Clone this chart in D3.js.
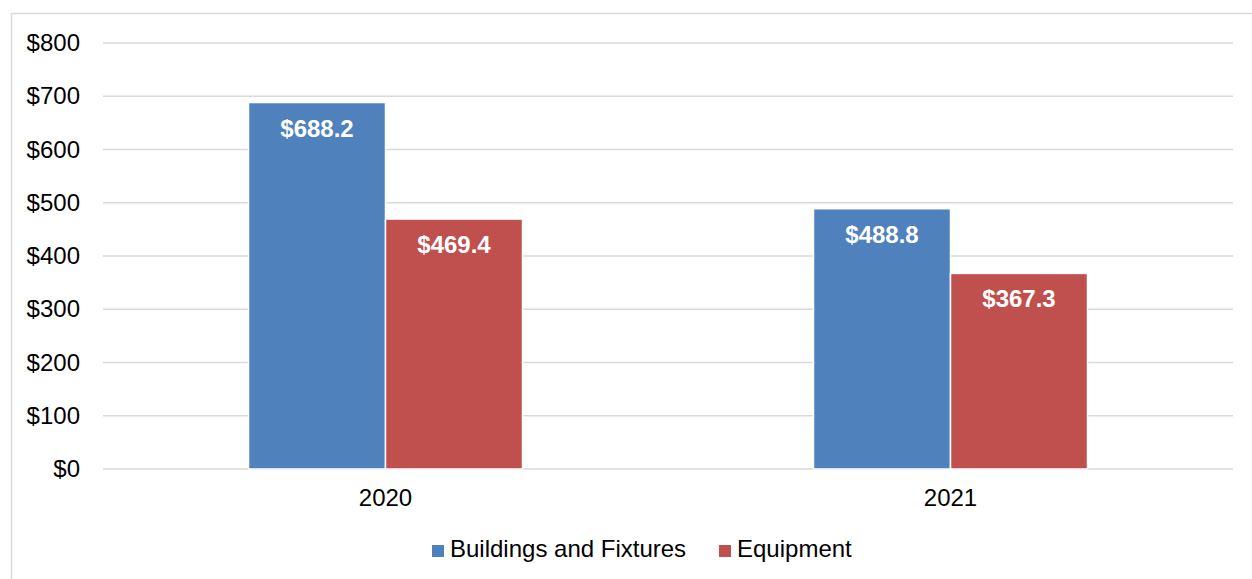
<!DOCTYPE html>
<html><head><meta charset="utf-8">
<script src="https://cdn.jsdelivr.net/npm/d3@7"></script>
<style>body{margin:0;background:#fff;} svg{display:block;font-family:"Liberation Sans",Arial,sans-serif;}</style>
</head><body>
<svg id="c" width="1252" height="579"></svg>
<script>
const categories = ["2020", "2021"];
const seriesNames = ["Buildings and Fixtures", "Equipment"];
const buildings = [688.2, 488.8];
const equipment = [469.4, 367.3];
const yTicks = [0, 100, 200, 300, 400, 500, 600, 700, 800];
const colors = ["#4F81BD", "#C0504D"];

(function () {
const svg = d3.select("#c");
const FS = 24;
// outer frame
svg.append("rect").attr("x", 11.5).attr("y", 13.5).attr("width", 1260).attr("height", 600)
  .attr("fill", "none").attr("stroke", "#d9d9d9").attr("stroke-width", 1.5);

const pLeft = 103, pRight = 1233, pTop = 43, pBottom = 469;
const x = d3.scaleBand().domain(categories).range([pLeft, pRight]);
const xs = d3.scaleBand().domain(seriesNames).range([0, 274]);
const y = d3.scaleLinear().domain([0, 800]).range([pBottom, pTop]);

// gridlines
svg.append("g").selectAll("line").data(yTicks).join("line")
  .attr("x1", pLeft).attr("x2", pRight)
  .attr("y1", d => y(d)).attr("y2", d => y(d))
  .attr("stroke", "#d9d9d9").attr("stroke-width", 1.5);

// y axis labels
const yAxis = d3.axisLeft(y).tickValues(yTicks).tickSize(0).tickPadding(0).tickFormat(d => "$" + d);
const ya = svg.append("g").attr("transform", `translate(${80},0)`).call(yAxis);
ya.select(".domain").remove();
ya.selectAll("text").attr("font-size", FS).attr("fill", "#000").attr("font-family", "Liberation Sans, Arial, sans-serif");

// x axis labels
const xAxis = d3.axisBottom(x).tickSize(0).tickPadding(0);
const xa = svg.append("g").attr("transform", `translate(0,${pBottom + 20})`).call(xAxis);
xa.select(".domain").remove();
xa.selectAll("text").attr("font-size", FS).attr("fill", "#000").attr("font-family", "Liberation Sans, Arial, sans-serif");

const data = [];
categories.forEach((c, i) => {
  data.push({cat: c, s: seriesNames[0], v: buildings[i], col: colors[0]});
  data.push({cat: c, s: seriesNames[1], v: equipment[i], col: colors[1]});
});

const g = svg.append("g");
g.selectAll("rect").data(data).join("rect")
  .attr("x", d => x(d.cat) + x.bandwidth() / 2 - 137 + xs(d.s))
  .attr("width", xs.bandwidth())
  .attr("y", d => y(d.v))
  .attr("height", d => y(0) - y(d.v))
  .attr("fill", d => d.col)
  .attr("stroke", "#fff").attr("stroke-width", 1.5);

g.selectAll("text").data(data).join("text")
  .attr("x", d => x(d.cat) + x.bandwidth() / 2 - 137 + xs(d.s) + xs.bandwidth() / 2)
  .attr("y", d => y(d.v) + 34)
  .attr("text-anchor", "middle")
  .attr("font-size", FS).attr("font-weight", "bold").attr("fill", "#fff")
  .text(d => "$" + d.v.toFixed(1));

// legend
const legendItems = [{n: seriesNames[0], c: colors[0], x: 432}, {n: seriesNames[1], c: colors[1], x: 719}];
const lg = svg.append("g");
legendItems.forEach(it => {
  lg.append("rect").attr("x", it.x).attr("y", 545).attr("width", 12).attr("height", 12).attr("fill", it.c);
  lg.append("text").attr("x", it.x + 18).attr("y", 557).attr("font-size", FS).attr("fill", "#000").text(it.n);
});
})();
</script>
</body></html>
